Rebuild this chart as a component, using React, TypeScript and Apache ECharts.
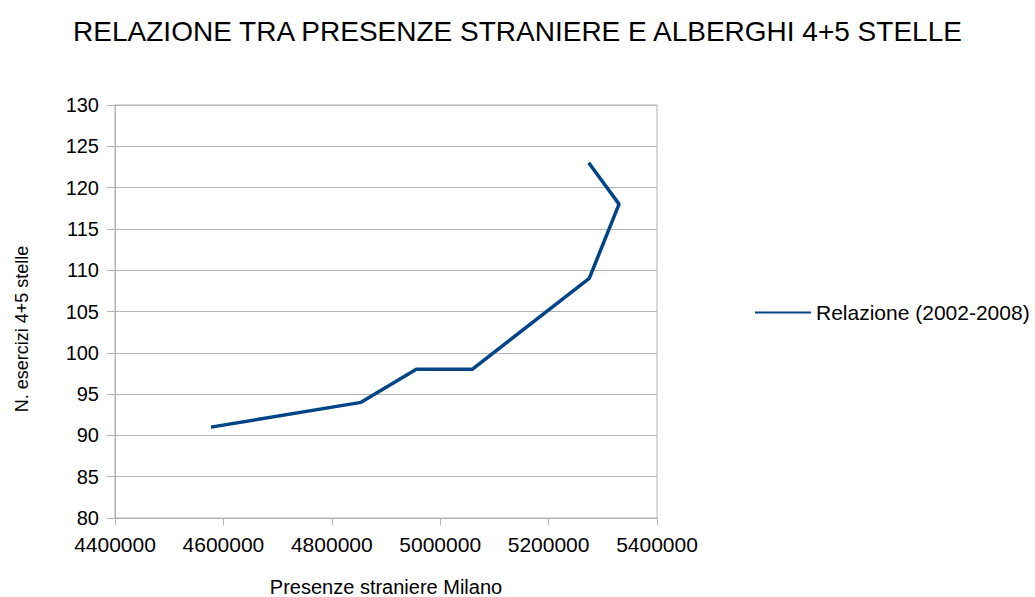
import React, { useEffect, useRef } from "react";
import * as echarts from "echarts";

const presenze = [4577000, 4854000, 4956000, 5059000, 5275000, 5330000, 5274000];
const esercizi = [91, 94, 98, 98, 109, 118, 123];
const seriesName = "Relazione (2002-2008)";
const titleText = "RELAZIONE TRA PRESENZE STRANIERE E ALBERGHI 4+5 STELLE";
const xName = "Presenze straniere Milano";
const yName = "N. esercizi 4+5 stelle";

export default function App() {
  const ref = useRef<HTMLDivElement>(null);
  useEffect(() => {
    if (!ref.current) return;
    const chart = echarts.init(ref.current, null, { renderer: "svg", width: 1035, height: 597 });
    const font = "'Liberation Sans', Arial, sans-serif";
    const gray = "#b3b3b3";
    chart.setOption({
      animation: false,
      backgroundColor: "#ffffff",
      title: {
        text: titleText,
        left: "center",
        top: 12,
        textStyle: { fontFamily: font, fontSize: 28, fontWeight: "normal", color: "#000" },
      },
      legend: {
        left: 750,
        top: 297,
        orient: "vertical",
        itemWidth: 56,
        itemHeight: 14,
        itemGap: 5,
        textStyle: { fontFamily: font, fontSize: 21, color: "#000" },
        data: [{ name: seriesName, icon: "path://M0,6H56V8H0Z" }],
      },
      grid: {
        left: 115,
        top: 105,
        width: 542,
        height: 413,
        show: true,
        borderColor: gray,
        borderWidth: 1,
        containLabel: false,
        outerBoundsMode: "none",
      },
      graphic: [
        {
          type: "text",
          x: 22,
          y: 329,
          rotation: Math.PI / 2,
          style: {
            text: yName,
            fontFamily: font,
            fontSize: 18,
            fill: "#000",
            align: "center",
            verticalAlign: "middle",
          },
        },
      ],
      xAxis: {
        type: "value",
        min: 4400000,
        max: 5400000,
        interval: 200000,
        name: xName,
        nameLocation: "middle",
        nameGap: 59,
        nameTextStyle: { fontFamily: font, fontSize: 20, color: "#000" },
        axisLine: { show: true, lineStyle: { color: gray, width: 1 } },
        axisTick: { show: true, length: 7, lineStyle: { color: gray } },
        axisLabel: {
          fontFamily: font,
          fontSize: 21,
          color: "#000",
          margin: 16,
          formatter: (v: number) => String(v),
        },
        splitLine: { show: false },
      },
      yAxis: {
        type: "value",
        min: 80,
        max: 130,
        interval: 5,
        axisLine: { show: true, lineStyle: { color: gray, width: 1 } },
        axisTick: { show: true, length: 8, lineStyle: { color: gray } },
        axisLabel: { fontFamily: font, fontSize: 20, color: "#000", margin: 16 },
        splitLine: { show: true, lineStyle: { color: gray, width: 1 } },
      },
      series: [
        {
          name: seriesName,
          type: "line",
          data: presenze.map((x, i) => [x, esercizi[i]]),
          symbol: "none",
          lineStyle: { color: "#004586", width: 3.5 },
          itemStyle: { color: "#004586" },
        },
      ],
    });
    return () => chart.dispose();
  }, []);
  return <div ref={ref} style={{ width: 1035, height: 597, position: "absolute", left: 0, top: 0 }} />;
}
